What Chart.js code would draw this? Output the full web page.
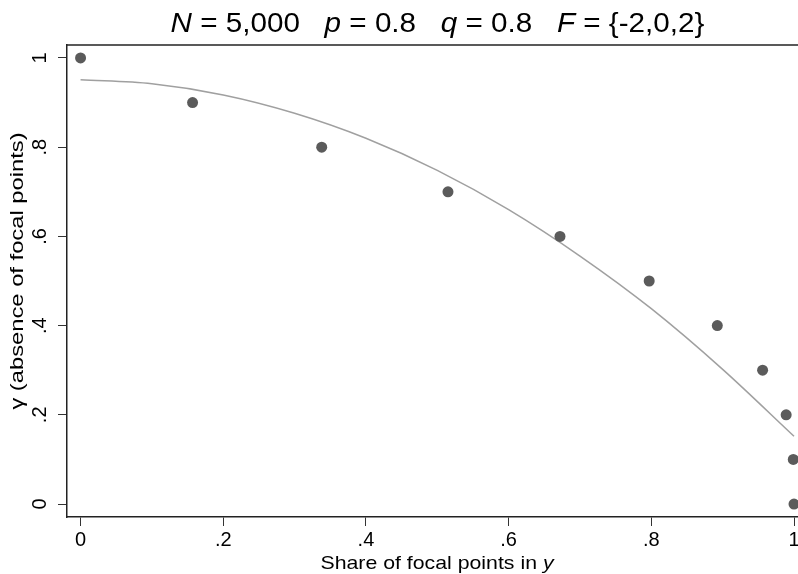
<!DOCTYPE html>
<html lang='en'>
<head>
    <meta charset='UTF-8'>
    <title>Focal points and gamma</title>
    <style>
        body {
            margin: 0;
            background-color: #fff;
        }
        #chart {
            display: block;
        }
    </style>
</head>
<body>
    <canvas id='chart' width='798' height='574'></canvas>

    <script src='https://cdn.jsdelivr.net/npm/chart.js'></script>
    <script>
        // simulated points: share of focal points vs gamma
        const shareFocal = [0, 0.157, 0.338, 0.515, 0.672, 0.797, 0.8925, 0.956, 0.989, 0.999, 1.0];
        const gammaValues = [1, 0.9, 0.8, 0.7, 0.6, 0.5, 0.4, 0.3, 0.2, 0.1, 0];

        // fitted curve, read at steps of .1
        const fitShare = [0, 0.1, 0.2, 0.3, 0.4, 0.5, 0.6, 0.7, 0.8, 0.9, 1];
        const fitGamma = [0.951, 0.942, 0.917, 0.876, 0.820, 0.748, 0.660, 0.556, 0.438, 0.302, 0.152];

        const xTickValues = [0, 0.2, 0.4, 0.6, 0.8, 1];
        const xTickLabels = ['0', '.2', '.4', '.6', '.8', '1'];
        const yTickValues = [0, 0.2, 0.4, 0.6, 0.8, 1];
        const yTickLabels = ['0', '.2', '.4', '.6', '.8', '1'];

        // [text, italic]
        const titleParts = [['N', true], [' = 5,000   ', false], ['p', true], [' = 0.8   ', false],
                            ['q', true], [' = 0.8   ', false], ['F', true], [' = {-2,0,2}', false]];
        const xTitleParts = [['Share of focal points in ', false], ['y', true]];
        const yTitleParts = [['γ (absence of focal points)', false]];

        const FONT = '"Liberation Sans", Arial, sans-serif';

        // text run centred on cx, stretched along its direction by sx
        function drawParts(ctx, parts, size, cx, baseline, sx) {
            const fontOf = italic => (italic ? 'italic ' : '') + size + 'px ' + FONT;
            let total = 0;
            parts.forEach(([t, it]) => {
                ctx.font = fontOf(it);
                total += ctx.measureText(t).width;
            });
            ctx.save();
            ctx.translate(cx, baseline);
            ctx.scale(sx, 1);
            let x = -total / 2;
            ctx.textAlign = 'left';
            ctx.textBaseline = 'alphabetic';
            parts.forEach(([t, it]) => {
                ctx.font = fontOf(it);
                ctx.fillText(t, x, 0);
                x += ctx.measureText(t).width;
            });
            ctx.restore();
        }

        const stataText = {
            id: 'stataText',
            beforeDraw(chart) {
                const ctx = chart.ctx;
                ctx.save();
                ctx.fillStyle = '#fff';
                ctx.fillRect(0, 0, chart.width, chart.height);
                ctx.restore();
            },
            afterDraw(chart) {
                const ctx = chart.ctx;
                const area = chart.chartArea;
                ctx.save();
                ctx.fillStyle = '#000';
                drawParts(ctx, titleParts, 28.5, 437.5, 32, 1.04);
                drawParts(ctx, xTitleParts, 19, 437, 569, 1.12);
                // y title reads upwards
                ctx.save();
                ctx.translate(23, 271);
                ctx.rotate(-Math.PI / 2);
                drawParts(ctx, yTitleParts, 19, 0, 0, 1.25);
                ctx.restore();
                // top edge of the plot region
                ctx.strokeStyle = '#222';
                ctx.lineWidth = 1.5;
                ctx.beginPath();
                ctx.moveTo(area.left, area.top);
                ctx.lineTo(area.right, area.top);
                ctx.stroke();
                ctx.restore();
            }
        };

        const tickFont = { family: FONT, size: 20 };

        new Chart(document.getElementById('chart').getContext('2d'), {
            type: 'scatter',
            data: {
                datasets: [{
                    label: 'gamma',
                    data: shareFocal.map((x, i) => ({ x: x, y: gammaValues[i] })),
                    backgroundColor: '#5b5b5b',
                    borderWidth: 0,
                    pointRadius: 5.5,
                    pointHoverRadius: 5.5
                }, {
                    label: 'fit',
                    data: fitShare.map((x, i) => ({ x: x, y: fitGamma[i] })),
                    showLine: true,
                    borderColor: '#a0a0a0',
                    borderWidth: 1.5,
                    pointRadius: 0,
                    cubicInterpolationMode: 'monotone'
                }]
            },
            options: {
                responsive: false,
                devicePixelRatio: 1,
                animation: false,
                layout: { autoPadding: false, padding: { top: 45, left: 0, right: 0, bottom: 0 } },
                plugins: {
                    legend: { display: false },
                    tooltip: { enabled: false }
                },
                scales: {
                    x: {
                        type: 'linear',
                        min: -0.019,
                        max: 1.0056,
                        afterBuildTicks: s => { s.ticks = xTickValues.map(v => ({ value: v })); },
                        afterFit: s => { s.height = 57; s.paddingLeft = 0; s.paddingRight = 0; },
                        ticks: {
                            callback: (v, i) => xTickLabels[i],
                            font: tickFont,
                            color: '#000',
                            padding: 2,
                            maxRotation: 0,
                            autoSkip: false
                        },
                        grid: { drawOnChartArea: false, tickLength: 9, tickColor: '#333', tickWidth: 1 },
                        border: { color: '#222', width: 1.5 }
                    },
                    y: {
                        type: 'linear',
                        min: -0.029,
                        max: 1.029,
                        afterBuildTicks: s => { s.ticks = yTickValues.map(v => ({ value: v })); },
                        afterFit: s => { s.width = 67; s.paddingTop = 0; s.paddingBottom = 0; },
                        ticks: {
                            callback: (v, i) => yTickLabels[i],
                            font: tickFont,
                            color: '#000',
                            padding: 9,
                            minRotation: 90,
                            maxRotation: 90,
                            crossAlign: 'center',
                            autoSkip: false
                        },
                        grid: { drawOnChartArea: false, tickLength: 9, tickColor: '#333', tickWidth: 1 },
                        border: { color: '#222', width: 1.5 }
                    }
                }
            },
            plugins: [stataText]
        });
    </script>
</body>
</html>
